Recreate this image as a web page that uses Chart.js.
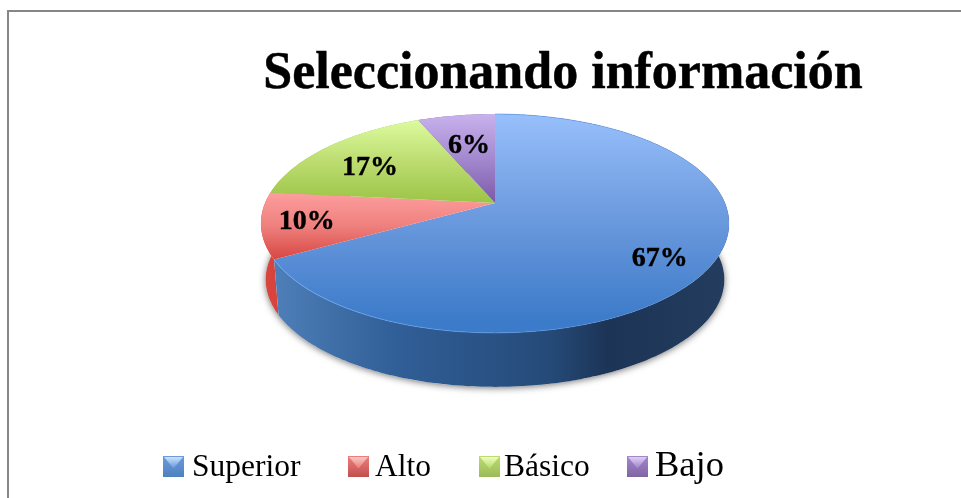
<!DOCTYPE html>
<html lang="es">
<head>
<meta charset="utf-8">
<style>html,body{margin:0;padding:0;background:#fff}canvas{display:block}</style>
<script src="https://cdn.jsdelivr.net/npm/chart.js@4/dist/chart.umd.min.js"></script>
</head>
<body>
<canvas id="c" width="961" height="498"></canvas>
<script>
const chartTitle = "Seleccionando información";
const categories = ["Superior", "Alto", "Básico", "Bajo"];
const values = [66.9, 9.7, 17, 6.4];
const baseColors = ["#4f81bd", "#c0504d", "#9bbb59", "#8064a2"];

// look of each slice
const topStops = [
  ["#97bffb", "#6c9ade", "#3c7bc9"],
  ["#fd9f9f", "#ee7f7c", "#d5423d"],
  ["#dcfb9e", "#bcdc70", "#9bc445"],
  ["#c8b2ec", "#a388cf", "#7a58a8"]
];
const bevelLight = ["#d2ebff", "#f9cfca", "#f4ffc8", "#e4d6f7"];
const topRange = [[114, 320], [192, 262], [120, 204], [114, 204]];
const legendX = [[163, 192], [348, 375], [479, 504], [627, 655]];
const legendSizes = [31.5, 31.5, 31.5, 36.5];
const labelRadius = [0.77, 0.81, 0.73, 0.63];
const labelShift = [11, 1, 7, 1];

// projection of the pie onto the tilted disc
const view = { cx: 495, cy: 203, rx: 229.9, ry: 105.6, k: 0.187, shrink: 0.98, drop: 56.6 };
function project(a, f) {
  const u = Math.cos(a) * f, v = Math.sin(a) * f, w = 1 - view.k * v;
  return { x: view.cx + view.rx * u / w, y: view.cy + view.ry * v / w };
}
function lower(p) {
  return {
    x: view.cx + (p.x - view.cx) * view.shrink,
    y: view.cy + (p.y - view.cy) * view.shrink + view.drop
  };
}
function rim(a0, a1) {
  const n = Math.max(4, Math.ceil((a1 - a0) * 60)), pts = [];
  for (let i = 0; i <= n; i++) pts.push(project(a0 + (a1 - a0) * i / n, 1));
  return pts;
}
function vGrad(ctx, i) {
  const g = ctx.createLinearGradient(0, topRange[i][0], 0, topRange[i][1]);
  topStops[i].forEach((c, j) => g.addColorStop(j / 2, c));
  return g;
}
function sideGrad(ctx, i) {
  const g = ctx.createLinearGradient(261, 0, 729, 0);
  if (i === 0) {
    g.addColorStop(0.02, "#5080b9");
    g.addColorStop(0.28, "#315f98");
    g.addColorStop(0.62, "#254a78");
    g.addColorStop(0.74, "#1c3456");
    g.addColorStop(1, "#243c5e");
    return g;
  }
  if (i === 1) { g.addColorStop(0, "#d8443e"); g.addColorStop(1, "#b8322d"); return g; }
  return baseColors[i];
}

const pie3d = {
  id: "pie3d",
  beforeDraw(chart) {
    const ctx = chart.ctx;
    ctx.save();
    ctx.fillStyle = "#868686";
    ctx.fillRect(7, 10, 954, 2);
    ctx.fillRect(7, 10, 2, 488);
    ctx.fillStyle = "#000";
    ctx.strokeStyle = "#000";
    ctx.lineWidth = 0.5;
    ctx.font = "bold 52px 'Liberation Serif'";
    ctx.textAlign = "center";
    ctx.textBaseline = "alphabetic";
    ctx.fillText(chartTitle, 563, 88);
    ctx.strokeText(chartTitle, 563, 88);
    ctx.restore();
  },
  beforeDatasetsDraw(chart) {
    const ctx = chart.ctx, arcs = chart.getDatasetMeta(0).data;
    ctx.save();
    // soft shadow under the disc
    ctx.save();
    ctx.shadowColor = "rgba(0,0,0,0.55)";
    ctx.shadowBlur = 7;
    ctx.shadowOffsetY = 1;
    ctx.fillStyle = "#fff";
    ctx.beginPath();
    rim(0, Math.PI * 2).map(lower).forEach((p, j) => j ? ctx.lineTo(p.x, p.y) : ctx.moveTo(p.x, p.y));
    ctx.closePath();
    ctx.fill();
    ctx.restore();
    // side walls
    [3, 2, 1, 0].forEach(i => {
      const el = arcs[i], pts = rim(el.startAngle, el.endAngle);
      ctx.fillStyle = sideGrad(ctx, i);
      ctx.beginPath();
      pts.forEach((p, j) => j ? ctx.lineTo(p.x, p.y) : ctx.moveTo(p.x, p.y));
      pts.slice().reverse().map(lower).forEach(p => ctx.lineTo(p.x, p.y));
      ctx.closePath();
      ctx.fill();
    });
    // top faces
    arcs.forEach((el, i) => {
      const pts = rim(el.startAngle, el.endAngle);
      ctx.fillStyle = vGrad(ctx, i);
      ctx.beginPath();
      ctx.moveTo(view.cx, view.cy);
      pts.forEach(p => ctx.lineTo(p.x, p.y));
      ctx.closePath();
      ctx.fill();
    });
    // rim highlight on the front edge
    const el = arcs[0], hl = ctx.createLinearGradient(275, 0, 729, 0);
    hl.addColorStop(0, "rgba(110,170,245,0.9)");
    hl.addColorStop(0.55, "rgba(90,150,230,0.6)");
    hl.addColorStop(1, "rgba(90,150,230,0.15)");
    ctx.strokeStyle = hl;
    ctx.lineWidth = 1;
    ctx.beginPath();
    rim(el.startAngle, el.endAngle).forEach((p, j) => j ? ctx.lineTo(p.x, p.y) : ctx.moveTo(p.x, p.y));
    ctx.stroke();
    ctx.restore();
    return false;
  },
  afterDraw(chart) {
    const ctx = chart.ctx, arcs = chart.getDatasetMeta(0).data;
    const total = values.reduce((a, b) => a + b, 0);
    ctx.save();
    // percentage labels
    ctx.fillStyle = "#000";
    ctx.strokeStyle = "#000";
    ctx.lineWidth = 0.4;
    ctx.font = "bold 28px 'Liberation Serif'";
    ctx.textAlign = "center";
    ctx.textBaseline = "middle";
    arcs.forEach((el, i) => {
      const p = project((el.startAngle + el.endAngle) / 2, labelRadius[i]);
      const t = Math.round(values[i] / total * 100) + "%";
      ctx.fillText(t, p.x, p.y + labelShift[i]);
      ctx.strokeText(t, p.x, p.y + labelShift[i]);
    });
    // legend
    categories.forEach((name, i) => {
      const mx = legendX[i][0], my = 456, s = 21;
      const g = ctx.createLinearGradient(0, my, 0, my + s);
      g.addColorStop(0, topStops[i][1]);
      g.addColorStop(1, baseColors[i]);
      ctx.fillStyle = g;
      ctx.fillRect(mx, my, s, s);
      const b = ctx.createLinearGradient(0, my, 0, my + s * 0.55);
      b.addColorStop(0, bevelLight[i]);
      b.addColorStop(1, topStops[i][1]);
      ctx.fillStyle = b;
      ctx.beginPath();
      ctx.moveTo(mx + 1, my + 1);
      ctx.lineTo(mx + s - 1, my + 1);
      ctx.lineTo(mx + s / 2, my + s * 0.6);
      ctx.closePath();
      ctx.fill();
      ctx.fillStyle = "#000";
      ctx.font = legendSizes[i] + "px 'Liberation Serif'";
      ctx.textAlign = "left";
      ctx.textBaseline = "alphabetic";
      ctx.fillText(name, legendX[i][1], 476);
    });
    ctx.restore();
  }
};

new Chart(document.getElementById("c"), {
  type: "pie",
  data: {
    labels: categories,
    datasets: [{ data: values, backgroundColor: baseColors, borderWidth: 0 }]
  },
  options: {
    responsive: false,
    animation: false,
    plugins: { legend: { display: false }, title: { display: false }, tooltip: { enabled: false } }
  },
  plugins: [pie3d]
});
</script>
</body>
</html>
